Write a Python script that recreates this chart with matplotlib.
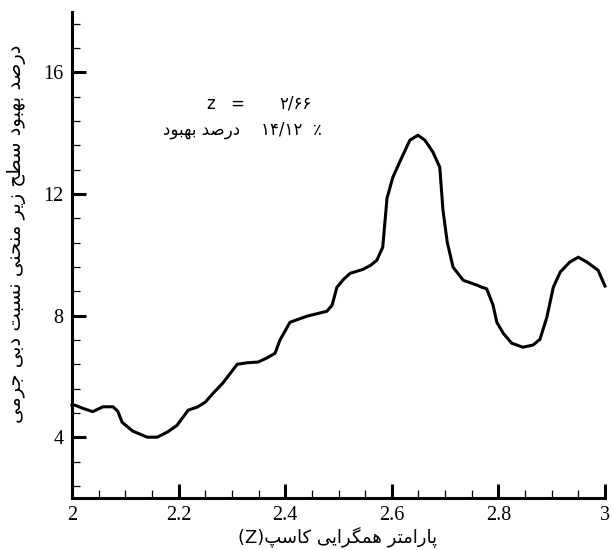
import matplotlib
matplotlib.use("Agg")
import matplotlib.pyplot as plt
from matplotlib.ticker import MultipleLocator

# ---------------------------------------------------------------------------
# data
# ---------------------------------------------------------------------------
z_values = [2.000, 2.006, 2.020, 2.039, 2.058, 2.077, 2.086, 2.094, 2.114, 2.141,
            2.160, 2.180, 2.197, 2.218, 2.235, 2.250, 2.265, 2.283, 2.310, 2.330,
            2.349, 2.365, 2.381, 2.390, 2.409, 2.441, 2.478, 2.488, 2.497, 2.510,
            2.522, 2.546, 2.560, 2.572, 2.583, 2.591, 2.602, 2.619, 2.634, 2.649,
            2.662, 2.677, 2.690, 2.696, 2.704, 2.715, 2.734, 2.760, 2.769, 2.778,
            2.790, 2.797, 2.809, 2.825, 2.846, 2.865, 2.878, 2.891, 2.903, 2.916,
            2.934, 2.950, 2.966, 2.987, 3.000]
improvement = [5.05, 5.05, 4.95, 4.84, 5.00, 5.00, 4.85, 4.49, 4.20, 4.00,
               4.00, 4.18, 4.39, 4.89, 4.99, 5.15, 5.45, 5.78, 6.40, 6.45,
               6.47, 6.60, 6.76, 7.19, 7.78, 7.98, 8.14, 8.34, 8.93, 9.20,
               9.39, 9.52, 9.65, 9.82, 10.25, 11.86, 12.55, 13.21, 13.77, 13.93,
               13.77, 13.38, 12.88, 11.47, 10.41, 9.59, 9.16, 9.00, 8.93, 8.88,
               8.34, 7.78, 7.42, 7.09, 6.96, 7.03, 7.22, 7.95, 8.93, 9.43,
               9.76, 9.92, 9.76, 9.49, 8.97]

x_ticks = [2, 2.2, 2.4, 2.6, 2.8, 3]
x_tick_labels = ["2", "2.2", "2.4", "2.6", "2.8", "3"]
y_ticks = [4, 8, 12, 16]
y_tick_labels = ["4", "8", "12", "16"]

x_label_text = "پارامتر همگرایی کاسپ"
x_label_symbol = "(Z)"
y_label_text = "درصد بهبود سطح زیر منحنی نسبت دبی جرمی"
note_symbol = "z"
note_value = "۲/۶۶"
note_percent = "۱۴/۱۲"
note_words = "درصد بهبود"

# ---------------------------------------------------------------------------
# minimal Persian shaping (matplotlib has no complex text layout)
# isolated, final, initial, medial ; None -> letter only joins to the right
# ---------------------------------------------------------------------------
FORMS = {
    "ا": ("\uFE8D", "\uFE8E", None, None),
    "ب": ("\uFE8F", "\uFE90", "\uFE91", "\uFE92"),
    "پ": ("\uFB56", "\uFB57", "\uFB58", "\uFB59"),
    "ت": ("\uFE95", "\uFE96", "\uFE97", "\uFE98"),
    "ج": ("\uFE9D", "\uFE9E", "\uFE9F", "\uFEA0"),
    "ح": ("\uFEA1", "\uFEA2", "\uFEA3", "\uFEA4"),
    "خ": ("\uFEA5", "\uFEA6", "\uFEA7", "\uFEA8"),
    "د": ("\uFEA9", "\uFEAA", None, None),
    "ر": ("\uFEAD", "\uFEAE", None, None),
    "ز": ("\uFEAF", "\uFEB0", None, None),
    "س": ("\uFEB1", "\uFEB2", "\uFEB3", "\uFEB4"),
    "ص": ("\uFEB9", "\uFEBA", "\uFEBB", "\uFEBC"),
    "ط": ("\uFEC1", "\uFEC2", "\uFEC3", "\uFEC4"),
    "م": ("\uFEE1", "\uFEE2", "\uFEE3", "\uFEE4"),
    "ن": ("\uFEE5", "\uFEE6", "\uFEE7", "\uFEE8"),
    "ه": ("\uFEE9", "\uFEEA", "\uFEEB", "\uFEEC"),
    "و": ("\uFEED", "\uFEEE", None, None),
    "ی": ("\uFBFC", "\uFBFD", "\uFBFE", "\uFBFF"),
    "ک": ("\uFB8E", "\uFB8F", "\uFB90", "\uFB91"),
    "گ": ("\uFB92", "\uFB93", "\uFB94", "\uFB95"),
}


def shape(text):
    out = []
    for i, ch in enumerate(text):
        if ch not in FORMS:
            out.append(ch)
            continue
        prev = text[i - 1] if i > 0 else None
        nxt = text[i + 1] if i + 1 < len(text) else None
        iso, fin, ini, med = FORMS[ch]
        j_prev = prev in FORMS and FORMS[prev][2] is not None
        j_next = nxt in FORMS and ini is not None
        if j_prev and j_next:
            out.append(med)
        elif j_prev:
            out.append(fin)
        elif j_next:
            out.append(ini)
        else:
            out.append(iso)
    return "".join(out)


def rtl(text):
    return shape(text)[::-1]


# ---------------------------------------------------------------------------
# figure
# ---------------------------------------------------------------------------
W, H = 613, 550
fig = plt.figure(figsize=(W / 100, H / 100), dpi=100)
ax = fig.add_axes([72 / W, 1 - 498 / H, (605 - 72) / W, (498 - 11.5) / H])

ax.plot(z_values, improvement, color="black", linewidth=2.2,
        solid_joinstyle="round", clip_on=False)

ax.set_xlim(2, 3)
ax.set_ylim(2, 18)
ax.set_xticks(x_ticks)
ax.set_xticklabels(x_tick_labels)
ax.set_yticks(y_ticks)
ax.set_yticklabels(y_tick_labels)
ax.xaxis.set_minor_locator(MultipleLocator(0.05))
ax.yaxis.set_minor_locator(MultipleLocator(0.8))

for side in ("top", "right"):
    ax.spines[side].set_visible(False)
for side in ("left", "bottom"):
    ax.spines[side].set_linewidth(2.2)

ax.tick_params(which="major", direction="in", length=10, width=2.2, pad=6,
               labelsize=14.5)
ax.tick_params(which="minor", direction="in", length=5.5, width=0.9)
for lab in ax.get_xticklabels() + ax.get_yticklabels():
    lab.set_fontfamily("Liberation Serif")

fa = ["DejaVu Sans"]

# axis titles (right-to-left)
fig.text(17 / W, 1 - 234 / H, rtl(y_label_text), rotation=90, ha="center",
         va="center", fontsize=14, family=fa)
fig.text(338 / W, 1 - 537 / H, x_label_symbol + rtl(x_label_text),
         ha="center", va="center", fontsize=13, family=fa)

# annotation
fig.text(211 / W, 1 - 104 / H, note_symbol, ha="center", va="center",
         fontsize=12, family=fa)
fig.text(237 / W, 1 - 104 / H, "=", ha="center", va="center",
         fontsize=12, family=fa)
fig.text(312 / W, 1 - 104 / H, note_value, ha="right", va="center",
         fontsize=12, family=fa)
fig.text(163 / W, 1 - 130 / H, rtl(note_words), ha="left", va="center",
         fontsize=12, family=fa)
fig.text(322 / W, 1 - 130 / H, note_percent + "  \u066A", ha="right",
         va="center", fontsize=12, family=fa)

fig.savefig("out.png", dpi=100)
